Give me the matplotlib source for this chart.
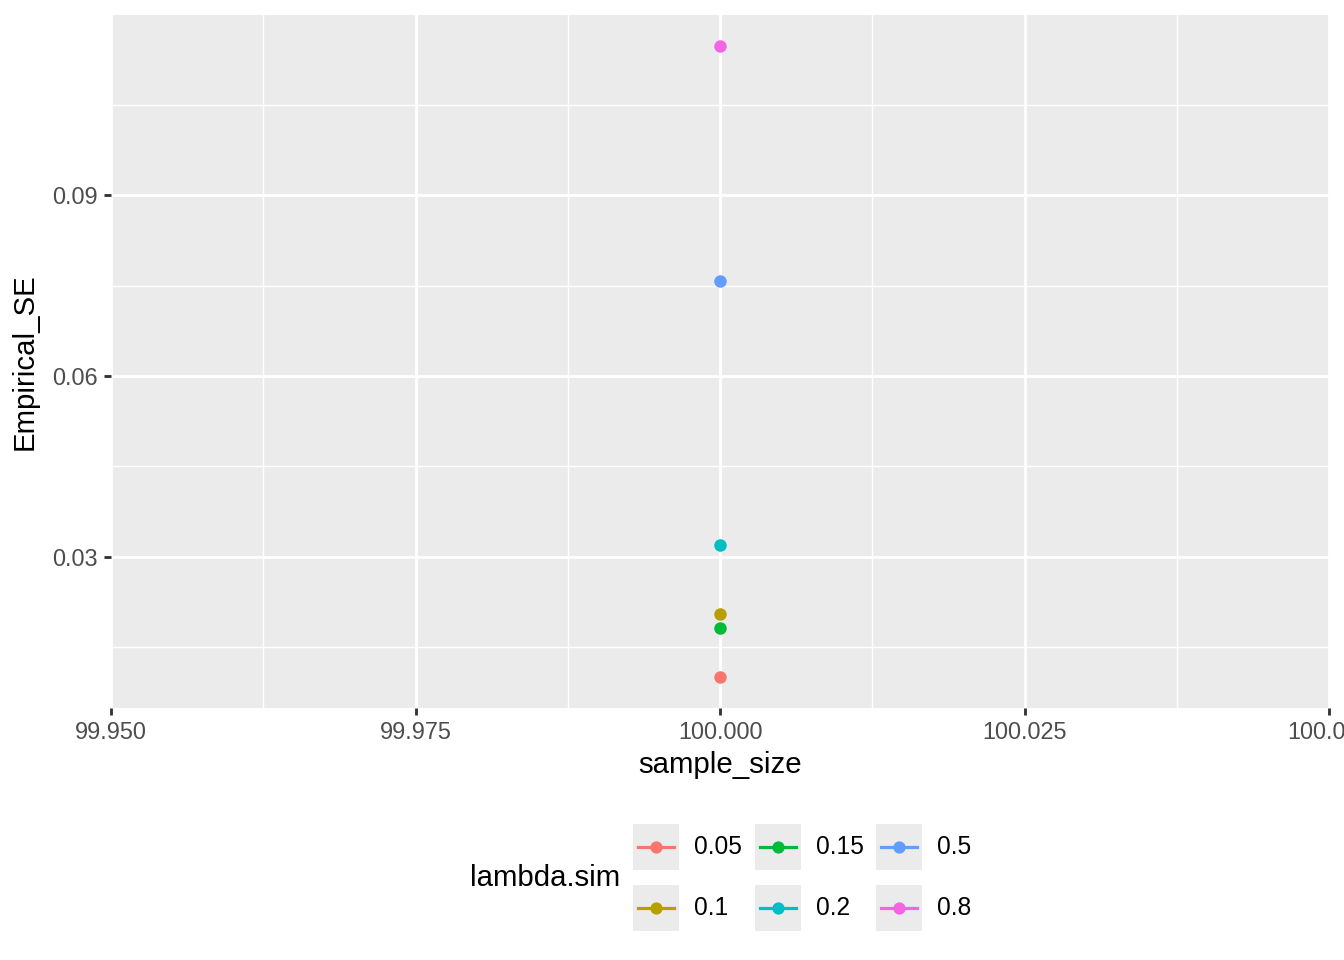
import matplotlib
matplotlib.use("Agg")
import matplotlib.pyplot as plt
from matplotlib.lines import Line2D
from matplotlib.patches import Rectangle

plt.rcParams['font.family'] = ['Liberation Sans', 'DejaVu Sans']

# Data
lambda_levels = ["0.05", "0.1", "0.15", "0.2", "0.5", "0.8"]
sample_size = [100, 100, 100, 100, 100, 100]
empirical_se = [0.0101, 0.0204, 0.0182, 0.0319, 0.0757, 0.1147]
colors = ["#F8766D", "#B79F00", "#00BA38", "#00BFC4", "#619CFF", "#F564E3"]
x_ticks = [99.950, 99.975, 100.000, 100.025, 100.050]
x_ticklabels = ["99.950", "99.975", "100.000", "100.025", "100.050"]
y_ticks = [0.03, 0.06, 0.09]
y_ticklabels = ["0.03", "0.06", "0.09"]

W, H = 1344, 960
fig = plt.figure(figsize=(7, 5), dpi=192)
ax = fig.add_axes([111 / W, 1 - 708 / H, (1329 - 111) / W, (708 - 15) / H])
ax.set_facecolor("#EBEBEB")
for s in ax.spines.values():
    s.set_visible(False)

ax.set_xlim(99.95, 100.05)
ymin, ymax = min(empirical_se), max(empirical_se)
pad = (ymax - ymin) * 0.05
ax.set_ylim(ymin - pad, ymax + pad)
ax.set_xticks(x_ticks)
ax.set_xticklabels(x_ticklabels)
ax.set_yticks(y_ticks)
ax.set_yticklabels(y_ticklabels)
ax.set_xticks([99.9625, 99.9875, 100.0125, 100.0375], minor=True)
ax.set_yticks([0.015, 0.045, 0.075, 0.105], minor=True)
ax.grid(which="major", color="white", linewidth=1.07)
ax.grid(which="minor", color="white", linewidth=0.53)
ax.set_axisbelow(True)
ax.tick_params(which="major", length=2.75, width=1.07, color="#333333",
               labelsize=8.8, labelcolor="#4D4D4D", pad=2.2)
ax.tick_params(which="minor", length=0)

for x, y, c in zip(sample_size, empirical_se, colors):
    ax.scatter([x], [y], s=22, color=c, zorder=3, linewidths=0)

ax.set_xlabel("sample_size", fontsize=11, labelpad=2.5)
ax.set_ylabel("Empirical_SE", fontsize=11, labelpad=5)
for lbl in ax.get_xticklabels():
    lbl.set_clip_on(False)

# legend (manual, ggplot style)
key = 46
col_x = [633, 755, 876]
row_y = [824, 885]
fig.text(470 / W, 1 - 878 / H, "lambda.sim", fontsize=11, ha="left", va="center")
for i, (lab, c) in enumerate(zip(lambda_levels, colors)):
    col, row = i // 2, i % 2
    x0, y0 = col_x[col], row_y[row]
    fig.patches.append(Rectangle((x0 / W, 1 - (y0 + key) / H), key / W, key / H,
                                 transform=fig.transFigure, facecolor="#EBEBEB",
                                 edgecolor="none"))
    yc = 1 - (y0 + key / 2) / H
    fig.lines.append(Line2D([(x0 + 5) / W, (x0 + key - 5) / W], [yc, yc],
                            transform=fig.transFigure, color=c, linewidth=1.2))
    fig.lines.append(Line2D([(x0 + key / 2) / W], [yc], transform=fig.transFigure,
                            color=c, marker="o", markersize=4.6, markeredgewidth=0))
    fig.text((x0 + key + 15) / W, yc, lab, fontsize=9.2, ha="left", va="center")

fig.savefig("out.png", dpi=192)
